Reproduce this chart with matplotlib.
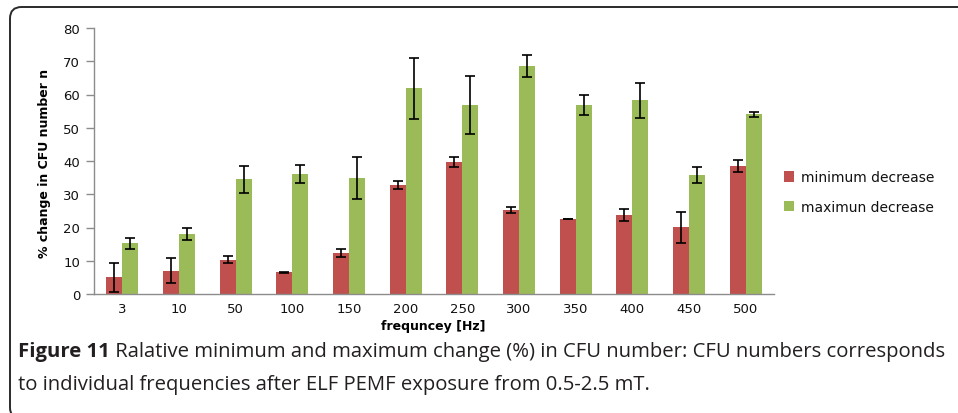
import matplotlib
matplotlib.use("Agg")
import matplotlib.pyplot as plt
import numpy as np
from matplotlib.patches import FancyBboxPatch

categories = ["3", "10", "50", "100", "150", "200", "250", "300", "350", "400", "450", "500"]
min_dec = [5.0, 7.0, 10.3, 6.6, 12.3, 32.8, 39.8, 25.4, 22.6, 23.8, 20.1, 38.6]
min_err = [4.3, 3.8, 1.0, 0.15, 1.2, 1.2, 1.5, 0.9, 0.05, 1.7, 4.7, 1.85]
max_dec = [15.2, 18.1, 34.5, 36.2, 34.9, 61.9, 56.9, 68.6, 56.9, 58.2, 35.8, 54.1]
max_err = [1.6, 1.8, 4.0, 2.7, 6.4, 9.2, 8.8, 3.4, 3.1, 5.3, 2.3, 0.75]
legend_labels = ["minimum decrease", "maximun decrease"]
ylabel = "% change in CFU number n"
xlabel = "frequncey [Hz]"
caption_bold = "Figure 11"
caption_rest1 = " Ralative minimum and maximum change (%) in CFU number: CFU numbers corresponds"
caption_line2 = "to individual frequencies after ELF PEMF exposure from 0.5-2.5 mT."

W, H = 958, 414
fig = plt.figure(figsize=(W / 100, H / 100), dpi=100)

# outer rounded frame (right and bottom edges run off the image)
box = FancyBboxPatch((10 / W, -6 / H), (990 - 10) / W, (406 + 6) / H,
                     boxstyle="round,pad=0,rounding_size=0.012",
                     transform=fig.transFigure, fill=False,
                     edgecolor="#2a2a2a", linewidth=1.4, mutation_aspect=W / H)
fig.patches.append(box)

ax = fig.add_axes([94 / W, 1 - 295 / H, 680 / W, (295 - 29) / H])
x = np.arange(len(categories))
bw = 0.285
red = "#C0504D"
green = "#9BBB59"
ax.bar(x - bw / 2, min_dec, bw, color=red, label=legend_labels[0],
       yerr=min_err, error_kw=dict(ecolor="black", elinewidth=1.2, capsize=3.5, capthick=1.2))
ax.bar(x + bw / 2, max_dec, bw, color=green, label=legend_labels[1],
       yerr=max_err, error_kw=dict(ecolor="black", elinewidth=1.2, capsize=3.5, capthick=1.2))

ax.set_xlim(-0.5, len(categories) - 0.5)
ax.set_ylim(0, 80)
ax.set_yticks(range(0, 81, 10))
ax.set_xticks(x)
ax.set_xticklabels(categories)
for s in ["top", "right"]:
    ax.spines[s].set_visible(False)
for s in ["left", "bottom"]:
    ax.spines[s].set_color("#8c8c8c")
    ax.spines[s].set_linewidth(1.0)
ax.tick_params(axis="y", length=6, width=1.0, color="#8c8c8c", pad=4, labelsize=9.5)
ax.tick_params(axis="x", length=0, pad=6, labelsize=9.5)
for lab in ax.get_xticklabels() + ax.get_yticklabels():
    lab.set_fontfamily("DejaVu Sans")
    lab.set_color("#111111")

fig.text(45 / W, 1 - 163 / H, ylabel, rotation=90, ha="center", va="center",
         fontsize=9, fontweight="bold", family="DejaVu Sans")
fig.text(433 / W, 1 - 327 / H, xlabel, ha="center", va="center",
         fontsize=9, fontweight="bold", family="DejaVu Sans")

leg = fig.legend(loc="center left", bbox_to_anchor=(784 / W, 1 - 193 / H),
                 frameon=False, fontsize=10, handlelength=0.7, handleheight=0.8,
                 handletextpad=0.5, labelspacing=1.15, borderaxespad=0, borderpad=0)
for t in leg.get_texts():
    t.set_color("#111111")

# caption
cap_fs = 14.55
cap_font = "Open Sans"
cap_color = "#231f20"
fig.canvas.draw()
r = fig.canvas.get_renderer()
tb = fig.text(18 / W, 1 - 352 / H, caption_bold, fontsize=cap_fs, fontweight="bold",
              family=cap_font, color=cap_color, va="center", ha="left")
bb = tb.get_window_extent(renderer=r)
tr = fig.text(bb.x1 / W, 1 - 352 / H, caption_rest1, fontsize=cap_fs,
              family=cap_font, color=cap_color, va="center", ha="left")
fig.text(18 / W, 1 - 385 / H, caption_line2, fontsize=cap_fs,
         family=cap_font, color=cap_color, va="center", ha="left")

fig.savefig("out.png", dpi=100)
